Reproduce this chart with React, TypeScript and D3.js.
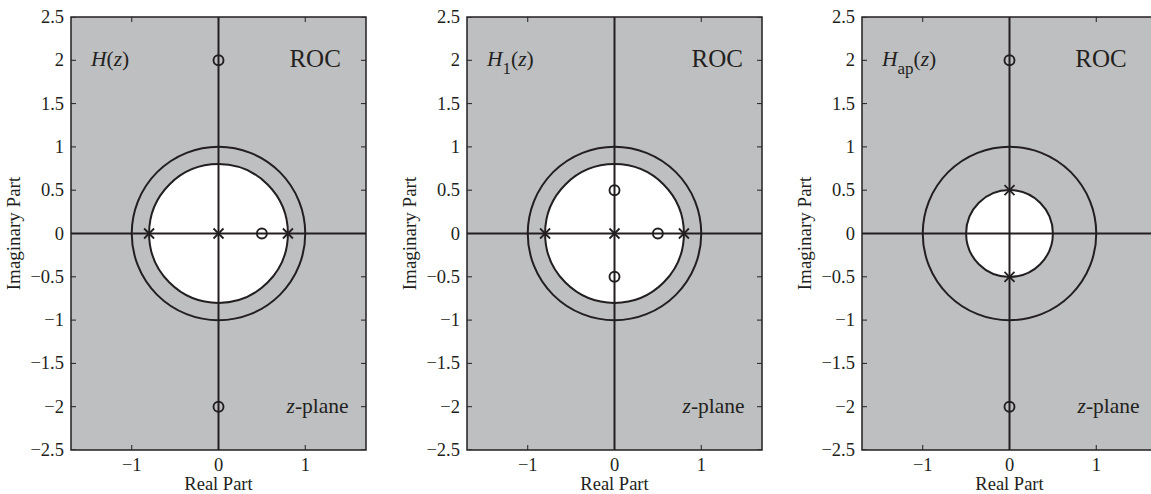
import * as d3 from "d3";

// axis ticks
const xTicks = [-1, 0, 1];
const yTicks = [-2.5, -2, -1.5, -1, -0.5, 0, 0.5, 1, 1.5, 2, 2.5];
const xDomain = [-1.7, 1.7];
const yDomain = [-2.5, 2.5];

// per panel: poles (x marks), zeros (circles), inner ROC radius
const panelNames = ["H", "H1", "Hap"];
const subscripts = ["", "1", "ap"];
const poles = [
  [[-0.8, 0], [0, 0], [0.8, 0]],
  [[-0.8, 0], [0, 0], [0.8, 0]],
  [[0, 0.5], [0, -0.5]],
];
const zeros = [
  [[0.5, 0], [0, 2], [0, -2]],
  [[0.5, 0], [0, 0.5], [0, -0.5]],
  [[0, 2], [0, -2]],
];
const rocRadius = [0.8, 0.8, 0.5];
const unitRadius = 1;
const rocLabelEnd = [1.41, 1.48, 1.35];

const panelLeft = [71, 467, 862];
const plotW = 295;
const top = 17;
const bottom = 450;

const ink = "#231f20";
const gray = "#bebfc1";
const serif = "'Liberation Serif', 'Times New Roman', serif";

function Panel({ i }: { i: number }) {
  const left = panelLeft[i];
  const x = d3.scaleLinear().domain(xDomain).range([left, left + plotW]);
  const y = d3.scaleLinear().domain(yDomain).range([bottom, top]);
  const r = (v: number) => x(v) - x(0);
  const cx = x(0), cy = y(0);
  const tl = 5;
  const clipId = `clip${i}`;
  return (
    <g>
      <defs>
        <clipPath id={clipId}>
          <rect x={left} y={top} width={plotW} height={bottom - top} />
        </clipPath>
      </defs>
      <g clipPath={`url(#${clipId})`}>
        <rect x={left} y={top} width={plotW} height={bottom - top} fill={gray} />
        <circle cx={cx} cy={cy} r={r(rocRadius[i])} fill="#fff" stroke={ink} strokeWidth={2} />
        <circle cx={cx} cy={cy} r={r(unitRadius)} fill="none" stroke={ink} strokeWidth={2} />
        <line x1={left} x2={left + plotW} y1={cy} y2={cy} stroke={ink} strokeWidth={2} />
        <line x1={cx} x2={cx} y1={top} y2={bottom} stroke={ink} strokeWidth={2} />
        {zeros[i].map(([re, im], k) => (
          <circle key={"z" + k} cx={x(re)} cy={y(im)} r={5} fill="none" stroke={ink} strokeWidth={1.9} />
        ))}
        {poles[i].map(([re, im], k) => {
          const px = x(re), py = y(im), s = 5;
          return (
            <path key={"p" + k} d={`M${px - s},${py - s}L${px + s},${py + s}M${px - s},${py + s}L${px + s},${py - s}`}
              stroke={ink} strokeWidth={1.8} />
          );
        })}
        {/* ticks, inward on every side */}
        {xTicks.map((t) => (
          <g key={"xt" + t}>
            <line x1={x(t)} x2={x(t)} y1={bottom} y2={bottom - tl} stroke={ink} strokeWidth={1} />
            <line x1={x(t)} x2={x(t)} y1={top} y2={top + tl} stroke={ink} strokeWidth={1} />
          </g>
        ))}
        {yTicks.map((t) => (
          <g key={"yt" + t}>
            <line x1={left} x2={left + tl} y1={y(t)} y2={y(t)} stroke={ink} strokeWidth={1} />
            <line x1={left + plotW} x2={left + plotW - tl} y1={y(t)} y2={y(t)} stroke={ink} strokeWidth={1} />
          </g>
        ))}
      </g>
      <rect x={left} y={top} width={plotW} height={bottom - top} fill="none" stroke={ink} strokeWidth={1.5} />

      <g fontFamily={serif} fill={ink}>
        {xTicks.map((t) => (
          <text key={"xl" + t} x={x(t)} y={471} fontSize={18.5} textAnchor="middle">
            {t < 0 ? "\u2212" + Math.abs(t) : String(t)}
          </text>
        ))}
        {yTicks.map((t) => (
          <text key={"yl" + t} x={left - 7} y={y(t) + 6} fontSize={18.5} textAnchor="end">
            {t < 0 ? "\u2212" + Math.abs(t) : String(t)}
          </text>
        ))}
        <text x={x(0)} y={490} fontSize={18.5} textAnchor="middle">Real Part</text>
        <text transform={`translate(${left - 51},${cy}) rotate(-90)`} fontSize={19} textAnchor="middle">
          Imaginary Part
        </text>

        <text x={x(-1.47)} y={66} fontSize={21.5}>
          <tspan fontStyle="italic">H</tspan>
          {subscripts[i] && (
            <tspan fontSize={17} dy={8}>{subscripts[i]}</tspan>
          )}
          <tspan dy={subscripts[i] ? -8 : 0}>(</tspan>
          <tspan fontStyle="italic">z</tspan>
          <tspan>)</tspan>
        </text>
        <text x={x(rocLabelEnd[i])} y={67} fontSize={25} textAnchor="end">ROC</text>
        <text x={x(1.5)} y={413} fontSize={21.5} textAnchor="end">
          <tspan fontStyle="italic">z</tspan>-plane
        </text>
      </g>
    </g>
  );
}

export default function App() {
  return (
    <div style={{ position: "absolute", left: 0, top: 0 }}>
      <svg width={1151} height={494} style={{ display: "block", background: "#fff" }}>
        {panelNames.map((n, i) => (
          <Panel key={n} i={i} />
        ))}
      </svg>
    </div>
  );
}
